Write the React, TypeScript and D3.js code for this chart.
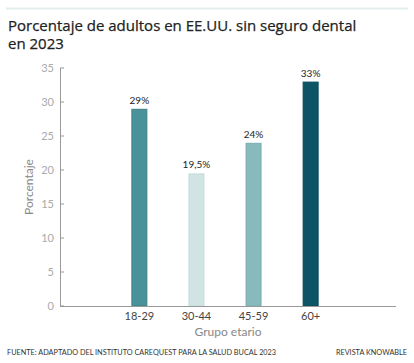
import * as d3 from 'd3';

const WIDTH = 414;
const HEIGHT = 363;
const MARGIN = { top: 68, right: 24, bottom: 57, left: 60 };

const categories = ['18-29', '30-44', '45-59', '60+'];
const values = [29, 19.5, 24, 33];
const valueLabels = ['29%', '19,5%', '24%', '33%'];
const barColors = ['#4b9199', '#cfe4e3', '#87babd', '#0b5567'];
const barStrokes = ['#3f8189', '#c3dcdb', '#79aeb1', '#084a59'];
const yTicks = [0, 5, 10, 15, 20, 25, 30, 35];

const FONT = 'Lato, "Open Sans", sans-serif';
const TITLE_FONT = '"Open Sans", sans-serif';

export default function App() {
    const boundsWidth = WIDTH - MARGIN.left - MARGIN.right;
    const boundsHeight = HEIGHT - MARGIN.top - MARGIN.bottom;

    const xScale = d3
        .scaleBand()
        .domain(categories)
        .range([0, boundsWidth])
        .paddingInner(0.72)
        .paddingOuter(1.25);

    const yScale = d3.scaleLinear().domain([0, 35]).range([boundsHeight, 0]);

    const bars = categories.map((c, i) => {
        const x = xScale(c) ?? 0;
        const bw = xScale.bandwidth();
        const y = yScale(values[i]);
        return (
            <g key={c}>
                <rect
                    x={x + 0.5}
                    y={y + 0.5}
                    width={bw - 1}
                    height={boundsHeight - y - 0.5}
                    fill={barColors[i]}
                    stroke={barStrokes[i]}
                    strokeWidth={1}
                />
                <text
                    x={x + bw / 2}
                    y={y - 5}
                    textAnchor="middle"
                    fontSize={10}
                    fill="#222"
                >
                    {valueLabels[i]}
                </text>
                <text
                    x={x + bw / 2}
                    y={boundsHeight + 14}
                    textAnchor="middle"
                    fontSize={11}
                    fill="#444"
                >
                    {c}
                </text>
            </g>
        );
    });

    const grid = yTicks.map((t) => (
        <g key={t}>
            <line x1={0} x2={4} y1={yScale(t)} y2={yScale(t)} stroke="#999" strokeWidth={1} />
            <text
                x={-6}
                y={yScale(t)}
                dy="0.35em"
                textAnchor="end"
                fontSize={11}
                fill="#aaa"
            >
                {t}
            </text>
        </g>
    ));

    return (
        <svg
            width={WIDTH}
            height={HEIGHT}
            style={{ position: 'absolute', left: 0, top: 0, fontFamily: FONT, background: '#fff' }}
        >
            <line x1={6} x2={408} y1={8.5} y2={8.5} stroke="#e2eeee" strokeWidth={2} />
            <g fontFamily={TITLE_FONT} fontSize={15} fontWeight={500} fill="#222" stroke="#222" strokeWidth={0.25}>
                <text x={8} y={31}>
                    Porcentaje de adultos en EE.UU. sin seguro dental
                </text>
                <text x={8} y={49}>
                    en 2023
                </text>
            </g>

            <g transform={`translate(${MARGIN.left},${MARGIN.top})`}>
                {grid}
                {bars}
                <line x1={0.5} x2={0.5} y1={0} y2={boundsHeight} stroke="#999" strokeWidth={1} />
                <line x1={0} x2={boundsWidth + 6} y1={boundsHeight + 0.5} y2={boundsHeight + 0.5} stroke="#999" strokeWidth={1} />
                <text
                    x={(boundsWidth + 6) / 2}
                    y={boundsHeight + 30}
                    textAnchor="middle"
                    fontSize={12}
                    fill="#888"
                >
                    Grupo etario
                </text>
                <text
                    transform={`translate(-27,${boundsHeight / 2}) rotate(-90)`}
                    textAnchor="middle"
                    fontSize={12}
                    fill="#888"
                >
                    Porcentaje
                </text>
            </g>

            <text x={7} y={355} fontSize={7.3} fill="#333">
                FUENTE: ADAPTADO DEL INSTITUTO CAREQUEST PARA LA SALUD BUCAL 2023
            </text>
            <text x={407} y={355} fontSize={7.3} fill="#333" textAnchor="end">
                REVISTA KNOWABLE
            </text>
        </svg>
    );
}
